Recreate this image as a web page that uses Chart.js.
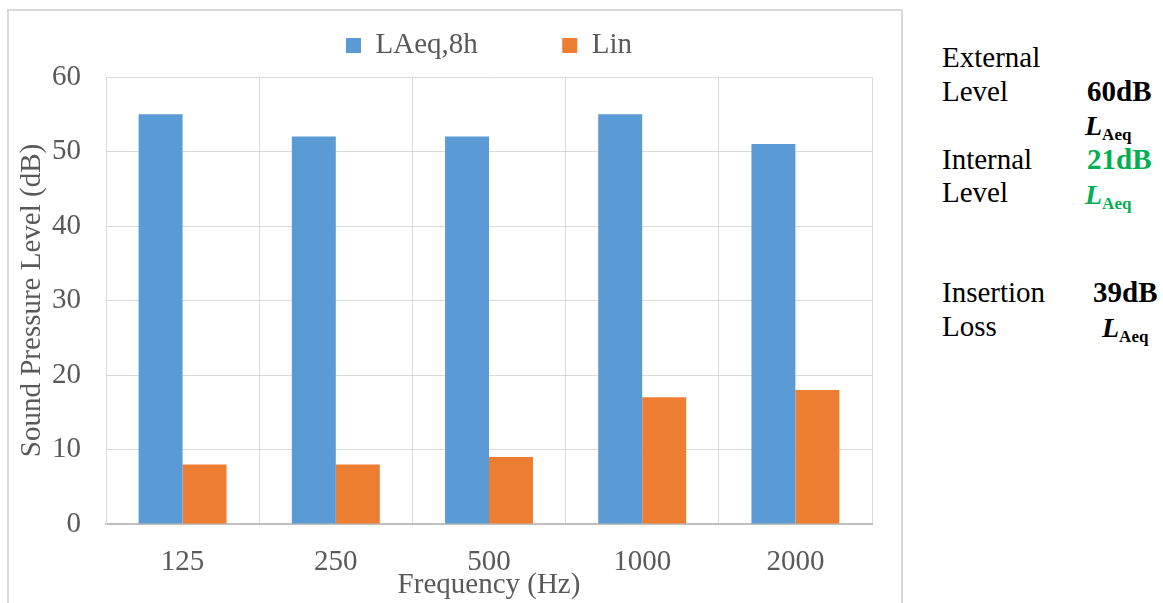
<!DOCTYPE html>
<html>
<head>
<meta charset="utf-8">
<script src="https://cdn.jsdelivr.net/npm/chart.js@4"></script>
<style>
  html, body { margin: 0; padding: 0; background: #fff; }
  body { width: 1163px; height: 603px; position: relative; overflow: hidden; font-family: 'Liberation Serif', 'Times New Roman', serif; }
  #frame { position: absolute; left: 7px; top: 9px; width: 892px; height: 640px; border: 2px solid #d9d9d9; }
  #wrap { position: absolute; left: 0; top: 0; width: 905px; height: 603px; }
  .t { position: absolute; font-size: 29px; line-height: 29px; color: #000; white-space: nowrap; }
  .b { font-weight: bold; }
  .g { color: #00b050; }
  .L { font-weight: bold; font-style: italic; font-size: 28px; }
  .sub { font-weight: bold; font-size: 17px; position: relative; top: 5px; font-style: normal; }
</style>
</head>
<body>
<div id="frame"></div>
<div id="wrap"><canvas id="chart" width="905" height="603"></canvas></div>

<div class="t" style="left:942px; top:43px;">External</div>
<div class="t" style="left:942px; top:77px;">Level</div>
<div class="t b" style="left:1087px; top:77px;">60dB</div>
<div class="t" style="left:1085px; top:111px;"><span class="L">L</span><span class="sub">Aeq</span></div>
<div class="t" style="left:942px; top:145px;">Internal</div>
<div class="t b g" style="left:1087px; top:145px;">21dB</div>
<div class="t" style="left:942px; top:178px;">Level</div>
<div class="t g" style="left:1085px; top:180px;"><span class="L">L</span><span class="sub">Aeq</span></div>
<div class="t" style="left:942px; top:278px;">Insertion</div>
<div class="t b" style="left:1093px; top:278px;">39dB</div>
<div class="t" style="left:942px; top:312px;">Loss</div>
<div class="t" style="left:1102px; top:313px;"><span class="L">L</span><span class="sub">Aeq</span></div>

<script>
const categories = ['125', '250', '500', '1000', '2000'];
const laeqValues = [55, 52, 52, 55, 51];
const linValues = [8, 8, 9, 17, 18];
const seriesNames = ['LAeq,8h', 'Lin'];
const yMin = 0, yMax = 60, yStep = 10;

const serif = "'Liberation Serif', 'Times New Roman', serif";
const grey = '#595959';

// wider gap after the first legend entry, like the original
const legendGap = '          ';

new Chart(document.getElementById('chart'), {
  type: 'bar',
  data: {
    labels: categories,
    datasets: [
      { label: seriesNames[0], data: laeqValues, backgroundColor: '#5b9bd5' },
      { label: seriesNames[1], data: linValues, backgroundColor: '#ed7d31' }
    ]
  },
  options: {
    responsive: false,
    animation: false,
    devicePixelRatio: 1,
    layout: { padding: { left: 11, right: 33, top: 19, bottom: 0 } },
    datasets: { bar: { categoryPercentage: 0.574, barPercentage: 1, borderWidth: 0 } },
    plugins: {
      tooltip: { enabled: false },
      legend: {
        position: 'top',
        fullSize: false,
        labels: {
          boxWidth: 15,
          boxHeight: 15,
          padding: 12,
          color: grey,
          font: { family: serif, size: 29 },
          generateLabels(chart) {
            const items = Chart.defaults.plugins.legend.labels.generateLabels(chart);
            items[0].text = items[0].text + legendGap;
            return items;
          }
        }
      },
      subtitle: {
        display: true,
        text: ' ',
        position: 'top',
        fullSize: false,
        weight: 500,
        font: { size: 1, lineHeight: 1 },
        padding: { top: 0, bottom: 6 }
      }
    },
    scales: {
      x: {
        grid: { color: '#d9d9d9', drawTicks: false, offset: true },
        border: { color: '#bfbfbf', width: 2 },
        ticks: { color: grey, font: { family: serif, size: 29 }, padding: 21 },
        title: { display: true, text: 'Frequency (Hz)', color: grey, font: { family: serif, size: 29 }, padding: { top: 0, bottom: 0 } },
        afterFit(scale) { scale.height = 79; }
      },
      y: {
        min: yMin,
        max: yMax,
        grid: { color: '#d9d9d9', drawTicks: false },
        border: { color: '#d9d9d9' },
        ticks: { stepSize: yStep, color: grey, font: { family: serif, size: 29 }, padding: 25 },
        title: { display: true, text: 'Sound Pressure Level (dB)', color: grey, font: { family: serif, size: 29 }, padding: { top: 4, bottom: 0 } },
        afterFit(scale) { scale.width = 95; }
      }
    }
  }
});
</script>
</body>
</html>
